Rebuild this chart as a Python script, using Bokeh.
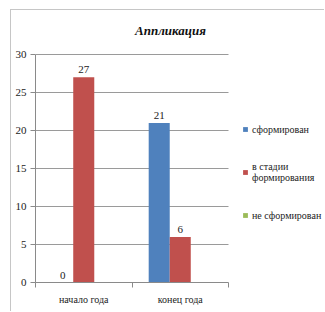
from bokeh.plotting import figure
from bokeh.models import (FixedTicker, Range1d, Label, Legend, LegendItem, ColumnDataSource)
from bokeh.embed import file_html
from bokeh.resources import INLINE

title_text = "Аппликация"
categories = ["начало года", "конец года"]
series_names = ["сформирован", "в стадии\nформирования", "не сформирован"]
series_colors = ["#4F81BD", "#C0504D", "#9BBB59"]
values = {
    "сформирован": [0, 21],
    "в стадии\nформирования": [27, 6],
    "не сформирован": [0, 0],
}
labelled = ["сформирован", "в стадии\nформирования"]
y_ticks = [0, 5, 10, 15, 20, 25, 30]

FONT = "'Liberation Serif', 'Times New Roman', serif"

W, H = 314, 302
LEFT, BOTTOM = 24, 30
frame_w = W - LEFT           # frame runs to the right edge (legend lives inside it)
frame_h = H - BOTTOM         # frame runs to the top edge (title lives inside it)
plot_w, plot_h = 193, 228    # size of the actual bar area
n = len(categories)
y_max = max(y_ticks)
x_end = n * frame_w / plot_w
y_end = y_max * frame_h / plot_h

p = figure(width=W, height=H, output_backend="svg", toolbar_location=None,
           x_range=Range1d(0, x_end), y_range=Range1d(0, y_end),
           min_border_left=LEFT, min_border_right=0, min_border_top=0,
           min_border_bottom=BOTTOM)
p.styles = {"margin-left": "10px", "margin-top": "9px",
            "border-left": "1px solid #c6c6c6", "border-top": "1px solid #c6c6c6"}
p.outline_line_color = None
p.background_fill_color = "white"
p.border_fill_color = "white"

# horizontal gridlines only across the bar area
p.xgrid.visible = False
p.ygrid.visible = False
grid_src = ColumnDataSource(dict(x0=[0] * (len(y_ticks) - 1), x1=[n] * (len(y_ticks) - 1),
                                 y=y_ticks[1:]))
p.segment(x0="x0", y0="y", x1="x1", y1="y", source=grid_src, line_color="#9a9a9a", line_width=1)

bw = 0.218
centers = [i + 0.5 for i in range(n)]
legend_items = []
for k, (name, col) in enumerate(zip(series_names, series_colors)):
    off = (k - 1) * bw
    xs = [c + off for c in centers]
    src = ColumnDataSource(dict(x=xs, top=values[name], lab=[str(v) for v in values[name]]))
    r = p.vbar(x="x", top="top", width=bw, source=src, fill_color=col, line_color=None)
    legend_items.append(LegendItem(label=name, renderers=[r]))
    if name in labelled:
        p.text(x="x", y="top", text="lab", source=src, text_align="center",
               text_baseline="bottom", y_offset=-4, text_font_size="11px",
               text_font=FONT, text_color="#222222")

# title inside the (extended) frame, above the bar area
p.add_layout(Label(x=135, y=plot_h + 24, x_units="screen", y_units="screen",
                   text=title_text, text_align="center", text_baseline="middle",
                   text_font=FONT, text_font_style="bold italic",
                   text_font_size="13px", text_color="#111111"))

# axes
p.yaxis.bounds = (0, y_max)
p.yaxis.ticker = FixedTicker(ticks=y_ticks)
p.yaxis.axis_line_color = "#8a8a8a"
p.yaxis.major_tick_line_color = "#8a8a8a"
p.yaxis.major_tick_out = 5
p.yaxis.major_tick_in = 0
p.yaxis.minor_tick_line_color = None
p.yaxis.major_label_text_font = FONT
p.yaxis.major_label_text_font_size = "11px"
p.yaxis.major_label_text_color = "#222222"
p.yaxis.major_label_standoff = 4

p.xaxis.bounds = (0, n)
p.xaxis.ticker = FixedTicker(ticks=centers, minor_ticks=list(range(n + 1)))
p.xaxis.major_label_overrides = {c: lab for c, lab in zip(centers, categories)}
p.xaxis.axis_line_color = "#8a8a8a"
p.xaxis.major_tick_line_color = None
p.xaxis.major_tick_out = 0
p.xaxis.minor_tick_line_color = "#8a8a8a"
p.xaxis.minor_tick_out = 5
p.xaxis.minor_tick_in = 0
p.xaxis.major_label_text_font = FONT
p.xaxis.major_label_text_font_size = "10px"
p.xaxis.major_label_text_color = "#222222"
p.xaxis.major_label_standoff = 6

lg = Legend(items=legend_items, location=(207, 61),
            glyph_width=6, glyph_height=6, label_standoff=4, padding=0, margin=0,
            border_line_color=None, background_fill_alpha=0,
            label_text_font=FONT, label_text_font_size="10px",
            label_text_color="#222222", label_height=12, spacing=26,
            label_text_line_height=1.4)
p.add_layout(lg, "center")

open("out.html", "w").write(file_html(p, INLINE))
